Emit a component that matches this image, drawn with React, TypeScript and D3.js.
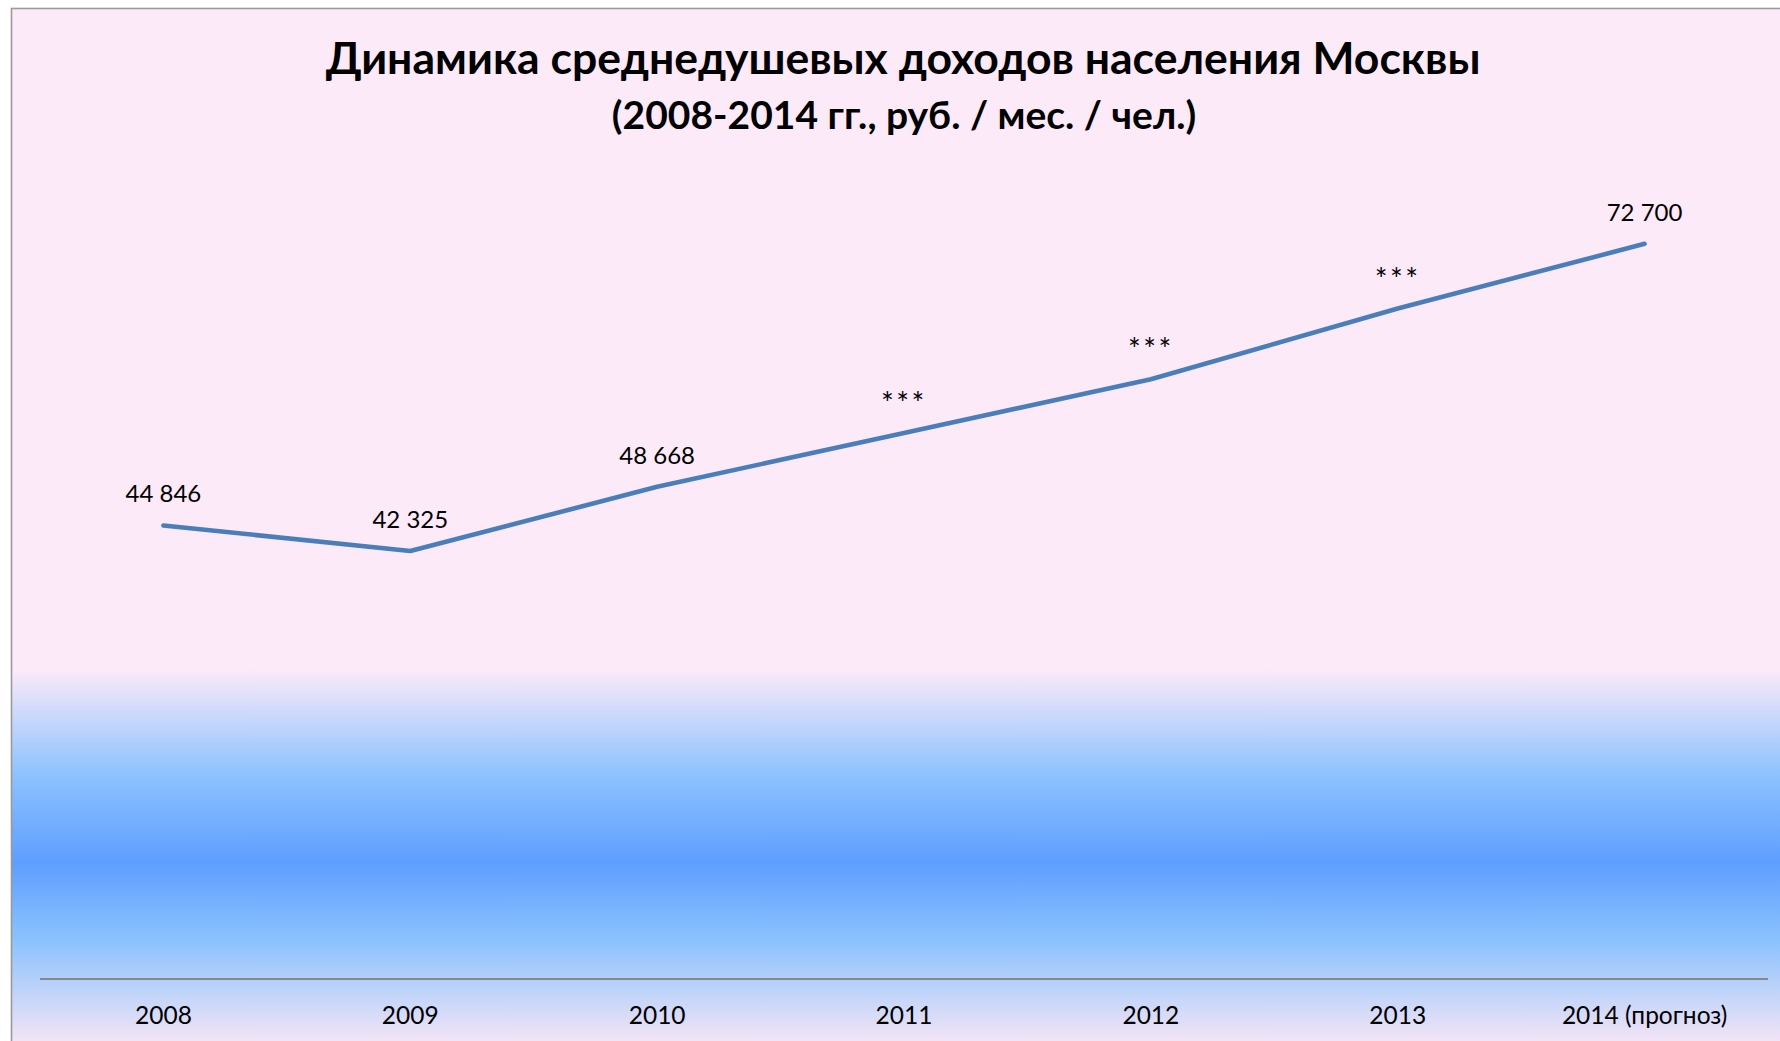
import React from "react";
import * as d3 from "d3";

const categories = ["2008", "2009", "2010", "2011", "2012", "2013", "2014 (прогноз)"];
const values = [44846, 42325, 48668, 54000, 59300, 66300, 72700];
const hiddenLabel = [false, false, false, true, true, true, false];
const titleLine1 = "Динамика среднедушевых доходов населения Москвы";
const titleLine2 = "(2008-2014 гг., руб. / мес. / чел.)";

const W = 1780;
const H = 1041;

export default function App() {
  const x = d3.scaleBand<string>().domain(categories).range([40, 1768]);
  const y = d3.scaleLinear().domain([0, 80000]).range([979, 170]);
  const cx = (c: string) => (x(c) as number) + x.bandwidth() / 2;
  const line = d3
    .line<number>()
    .x((_, i) => cx(categories[i]))
    .y((v) => y(v));
  const fmt = (v: number) => d3.format(",")(v).replace(/,/g, "\u00A0");
  const font = "Lato, 'Open Sans', sans-serif";

  return (
    <svg
      width={W}
      height={H}
      style={{ position: "fixed", left: 0, top: 0, display: "block" }}
    >
      <defs>
        <linearGradient id="bg" gradientUnits="userSpaceOnUse" x1="0" y1="0" x2="0" y2={H}>
          <stop offset={0} stopColor="#FDEAF9" />
          <stop offset={668 / H} stopColor="#FDEAF9" />
          <stop offset={773 / H} stopColor="#8EC3FE" />
          <stop offset={862 / H} stopColor="#5E9EFF" />
          <stop offset={942 / H} stopColor="#8CC3FE" />
          <stop offset={1} stopColor="#F2E4F6" />
        </linearGradient>
      </defs>
      <rect x={0} y={0} width={W} height={H} fill="#ffffff" />
      <rect
        x={11.5}
        y={8.5}
        width={W + 20}
        height={H + 20}
        fill="url(#bg)"
        stroke="#9a9a9a"
        strokeWidth={1.6}
      />
      <text
        x={903}
        y={74}
        textAnchor="middle"
        fontFamily={font}
        fontWeight="bold"
        fontSize={44.5}
        fill="#000"
      >
        {titleLine1}
      </text>
      <text
        x={904}
        y={129}
        textAnchor="middle"
        fontFamily={font}
        fontWeight="bold"
        fontSize={39}
        fill="#000"
      >
        {titleLine2}
      </text>
      <line x1={40} x2={1768} y1={y(0)} y2={y(0)} stroke="#878787" strokeWidth={2} />
      {categories.map((c) => (
        <text
          key={c}
          x={cx(c)}
          y={1024}
          textAnchor="middle"
          fontFamily={font}
          fontSize={24.5}
          fill="#000"
        >
          {c}
        </text>
      ))}
      <path
        d={line(values) || ""}
        fill="none"
        stroke="#4A7EBB"
        strokeWidth={4.6}
        strokeLinecap="round"
        strokeLinejoin="round"
      />
      {values.map((v, i) => (
        <text
          key={i}
          x={cx(categories[i])}
          y={hiddenLabel[i] ? y(v) - 19 : y(v) - 23}
          textAnchor="middle"
          fontFamily={font}
          fontSize={hiddenLabel[i] ? 30 : 24}
          letterSpacing={hiddenLabel[i] ? 2.5 : 0}
          fill="#000"
        >
          {hiddenLabel[i] ? "***" : fmt(v)}
        </text>
      ))}
    </svg>
  );
}
